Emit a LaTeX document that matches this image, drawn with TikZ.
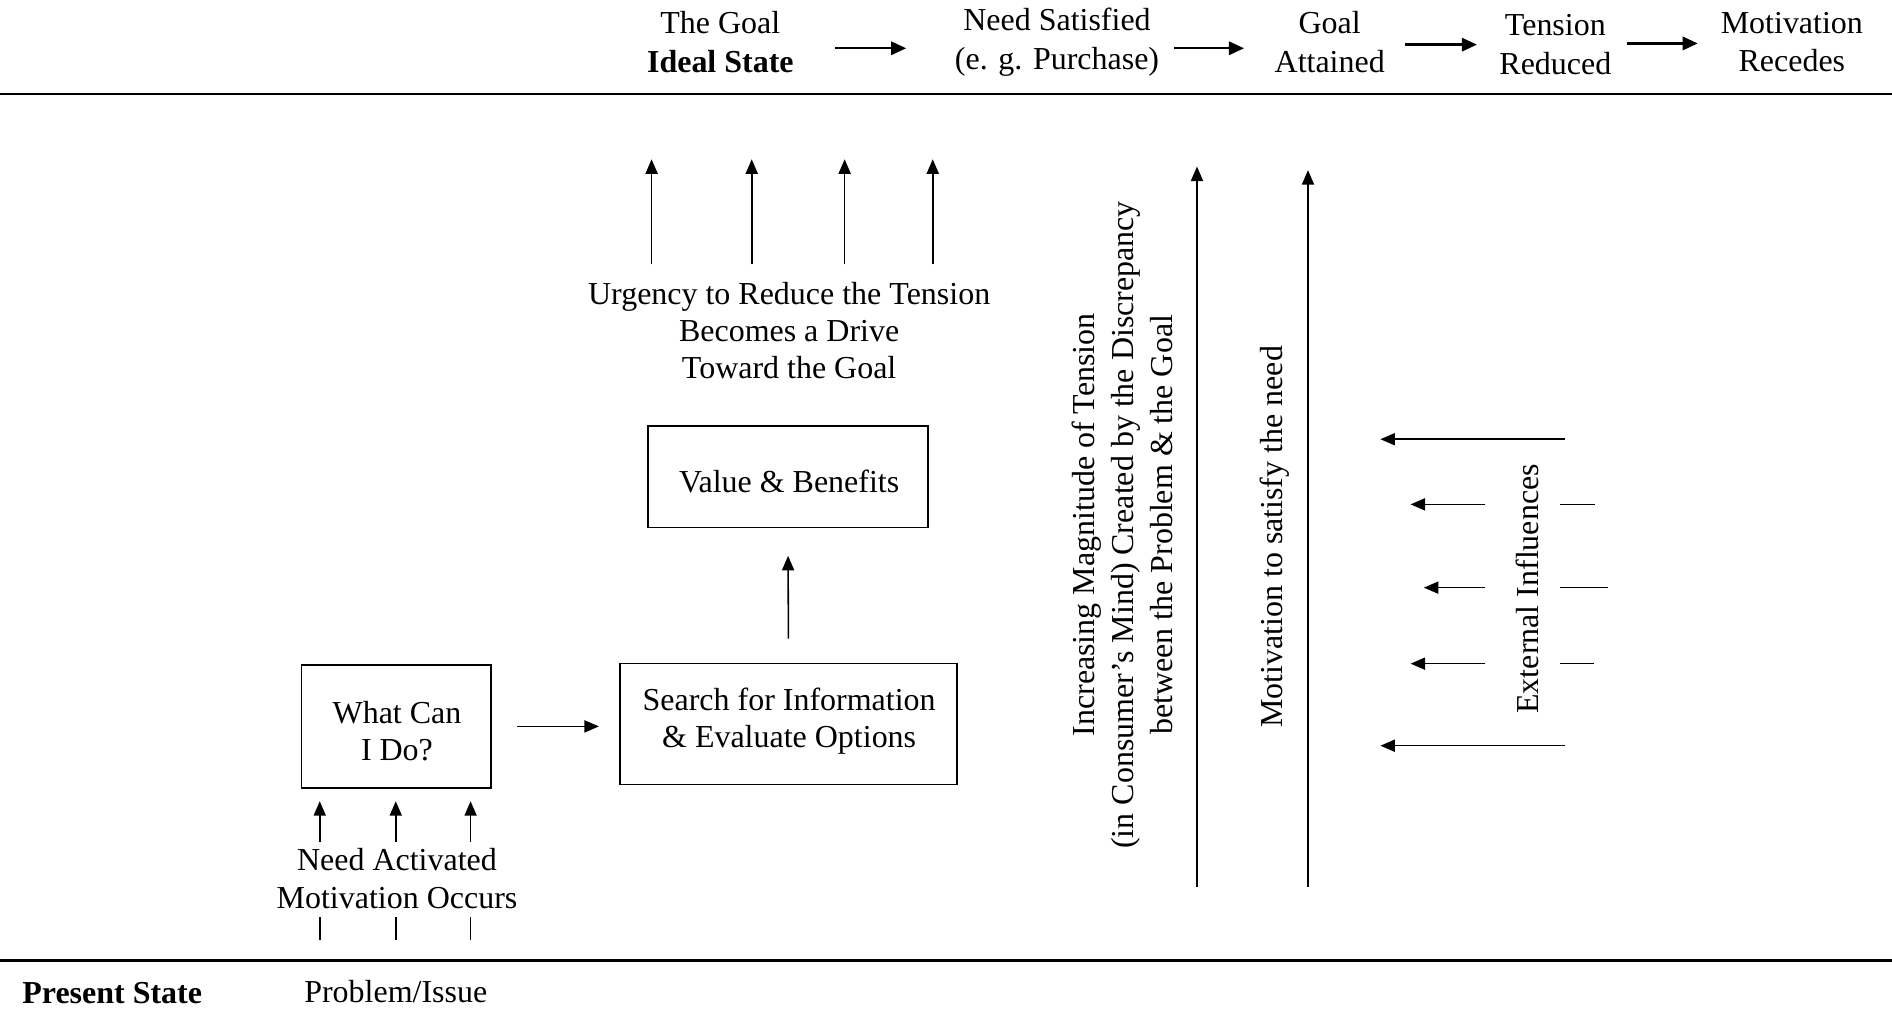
\documentclass[tikz,border=0pt]{standalone}
\usepackage{fontspec}
\setmainfont{Liberation Serif}
\usetikzlibrary{arrows.meta}
\begin{document}
\begin{tikzpicture}[x=1pt,y=-1pt,
  txt/.style={font=\fontsize{26.5}{31}\selectfont, align=center, inner sep=0pt},
  toptxt/.style={font=\fontsize{26.5}{32}\selectfont, align=center, inner sep=0pt},
  box/.style={draw, line width=1.3pt, inner sep=0pt},
  arr/.style={line width=1.3pt, -{Triangle[length=12pt,width=10pt]}},
  toparr/.style={line width=2pt, -{Triangle[length=12.5pt,width=11pt]}},
  plain/.style={line width=1.3pt},
  sep/.style={line width=2pt}]
\useasboundingbox (0,0) rectangle (1568,836);

% separator lines
\coordinate (tl) at (0,78); \coordinate (tr) at (1568,78);
\coordinate (bl) at (0,796); \coordinate (br) at (1568,796);
\draw[sep] (tl) -- (tr);
\draw[sep] (bl) -- (br);

% top row
\node[toptxt] (goal) at (597,35) {The Goal\\\textbf{Ideal State}};
\node[toptxt] (needsat) at (876,35) {Need Satisfied\\(e. g. Purchase)};
\node[toptxt] (attained) at (1102,35) {Goal\\Attained};
\node[toptxt] (reduced) at (1289,37) {Tension\\Reduced};
\node[toptxt] (recedes) at (1485,35) {Motivation\\Recedes};
\coordinate (t1a) at (692,40); \coordinate (t1b) at (751,40);
\coordinate (t2a) at (973,40); \coordinate (t2b) at (1031,40);
\coordinate (t3a) at (1164,37); \coordinate (t3b) at (1224,37);
\coordinate (t4a) at (1348,36); \coordinate (t4b) at (1407,36);
\draw[toparr] (t1a) -- (t1b);
\draw[toparr] (t2a) -- (t2b);
\draw[toparr] (t3a) -- (t3b);
\draw[toparr] (t4a) -- (t4b);

% bottom labels
\node[txt] (present) at (93,823) {\textbf{Present State}};
\node[txt] (problem) at (328,822) {Problem/Issue};

% boxes
\node[box, minimum width=157pt, minimum height=102pt] (what) at (328.5,602) {};
\node[txt] (whattxt) at (329,606) {What Can\\I Do?};
\node[box, minimum width=279pt, minimum height=100pt] (search) at (653.5,600) {};
\node[txt] (searchtxt) at (654,597.5) {Search for Information\\\& Evaluate Options};
\node[box, minimum width=232pt, minimum height=84pt] (value) at (653,395) {};
\node[txt] (valuetxt) at (654,399) {Value \& Benefits};

\draw[arr, shorten <=21pt, shorten >=17pt] (what.east |- 0,602) -- (search.west |- 0,602);
\draw[arr, shorten <=20pt, shorten >=23pt] (search.north) -- (value.south);

% need activated
\node[txt] (needact) at (329,728) {Need Activated\\Motivation Occurs};
\foreach \x [count=\i] in {265,328,390}{
  \coordinate (na\i) at (\x,698);
  \coordinate (nb\i) at (\x,664);
  \coordinate (nc\i) at (\x,760);
  \coordinate (nd\i) at (\x,779);
  \draw[arr] (na\i) -- (nb\i);
  \draw[plain] (nc\i) -- (nd\i);
}

% urgency
\node[txt] (urgency) at (654,274) {Urgency to Reduce the Tension\\Becomes a Drive\\Toward the Goal};
\foreach \x [count=\i] in {540,623,700,773}{
  \coordinate (ua\i) at (\x,219);
  \coordinate (ub\i) at (\x,132);
  \draw[arr] (ua\i) -- (ub\i);
}

% rotated tension text
\node[txt, rotate=90, font=\fontsize{26.5}{32.5}\selectfont] (tension) at (930,435)
  {Increasing Magnitude of Tension\\(in Consumer’s Mind) Created by the Discrepancy\\between the Problem \& the Goal};
\coordinate (la1) at (992,735); \coordinate (lb1) at (992,138);
\draw[arr] (la1) -- (lb1);
\node[txt, rotate=90] (motiv) at (1056,445) {Motivation to satisfy the need};
\coordinate (la2) at (1084,735); \coordinate (lb2) at (1084,141);
\draw[arr] (la2) -- (lb2);

% external influences
\node[txt, rotate=90] (ext) at (1266,488) {External Influences};
\coordinate (e1a) at (1297,364); \coordinate (e1b) at (1144,364);
\coordinate (e5a) at (1297,618); \coordinate (e5b) at (1144,618);
\draw[arr] (e1a) -- (e1b);
\draw[arr] (e5a) -- (e5b);
\foreach \y/\tip/\endx [count=\i] in {418/1169/1322, 487/1180/1333, 550/1169/1321}{
  \coordinate (ea\i) at (1231,\y);
  \coordinate (eb\i) at (\tip,\y);
  \coordinate (ec\i) at (1293,\y);
  \coordinate (ed\i) at (\endx,\y);
  \draw[arr] (ea\i) -- (eb\i);
  \draw[plain] (ec\i) -- (ed\i);
}
\end{tikzpicture}
\end{document}
